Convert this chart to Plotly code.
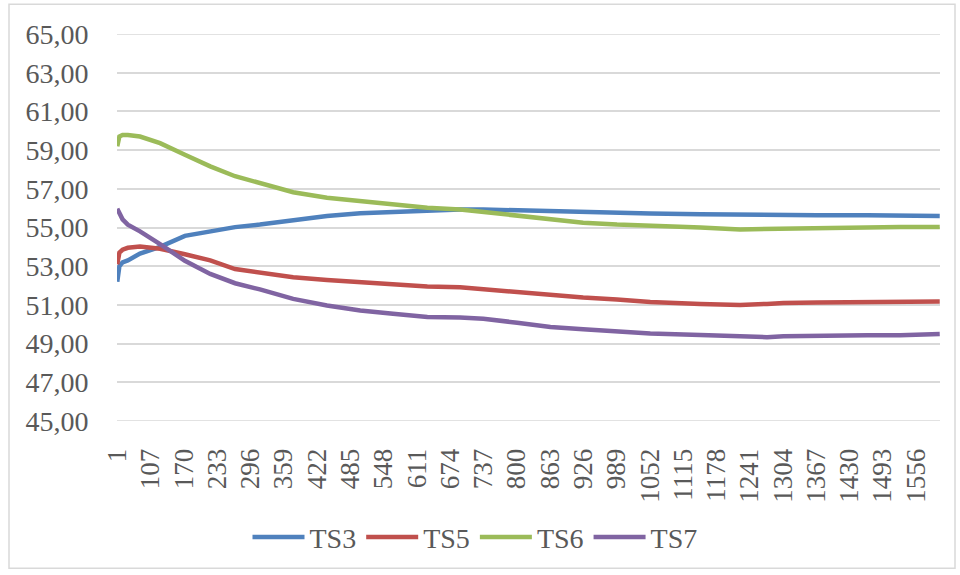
import plotly.graph_objects as go

# Sample position (row index of the log) at which each reading was taken
sample_idx = [0, 4, 10, 20, 43, 81, 128, 176, 223, 270, 333, 397, 460, 522, 587,
              649, 693, 757, 820, 882, 946, 1009, 1104, 1179, 1230, 1261, 1325,
              1420, 1482, 1557]

ts3 = [52.2, 53.0, 53.2, 53.3, 53.65, 54.0, 54.57, 54.82, 55.02, 55.15, 55.37,
       55.59, 55.73, 55.80, 55.84, 55.93, 55.93, 55.88, 55.85, 55.81, 55.78,
       55.72, 55.68, 55.65, 55.64, 55.64, 55.63, 55.63, 55.62, 55.60]
ts5 = [53.1, 53.7, 53.85, 53.95, 54.02, 53.9, 53.62, 53.3, 52.85, 52.65, 52.43,
       52.29, 52.17, 52.08, 51.95, 51.91, 51.8, 51.66, 51.48, 51.38, 51.28,
       51.15, 51.05, 51.0, 51.05, 51.1, 51.12, 51.14, 51.15, 51.18]
ts6 = [59.2, 59.7, 59.78, 59.78, 59.7, 59.36, 58.76, 58.16, 57.65, 57.3, 56.82,
       56.54, 56.36, 56.19, 56.02, 55.93, 55.8, 55.59, 55.39, 55.25, 55.15,
       55.1, 55.0, 54.9, 54.92, 54.97, 55.0, 55.0, 55.02, 55.03]
ts7 = [55.97, 55.7, 55.42, 55.15, 54.8, 54.14, 53.28, 52.6, 52.12, 51.8, 51.31,
       50.97, 50.71, 50.54, 50.37, 50.35, 50.28, 50.08, 49.86, 49.74, 49.6,
       49.52, 49.45, 49.35, 49.33, 49.38, 49.42, 49.43, 49.43, 49.5]

# Category labels shown along the horizontal axis, one every 63 rows
tick_pos = [i * 63 for i in range(25)]
tick_labels = ["1", "107", "170", "233", "296", "359", "422", "485", "548", "611",
               "674", "737", "800", "863", "926", "989", "1052", "1115", "1178",
               "1241", "1304", "1367", "1430", "1493", "1556"]
n_rows = 1558

series = [("TS3", ts3, "#4F81BD"), ("TS5", ts5, "#C0504D"),
          ("TS6", ts6, "#9BBB59"), ("TS7", ts7, "#8064A2")]

font_family = "Liberation Serif, Times New Roman, serif"
text_color = "#595959"

fig = go.Figure()
for name, vals, color in series:
    fig.add_trace(go.Scatter(x=sample_idx, y=vals, name=name, mode="lines",
                             line=dict(color=color, width=4.5)))

L, R, T, B = 117, 20, 34, 152
W, H = 960, 575
pw, ph = W - L - R, H - T - B


def px_x(v):
    return (v - L) / pw


def px_y(v):
    return (H - B - v) / ph


fig.update_layout(
    width=W, height=H,
    margin=dict(l=L, r=R, t=T, b=B),
    paper_bgcolor="white", plot_bgcolor="white",
    separators=",.",
    font=dict(family=font_family, size=28, color=text_color),
    showlegend=True,
    legend=dict(orientation="h", x=px_x(475), xanchor="center",
                y=px_y(540), yanchor="middle",
                font=dict(size=28, color=text_color),
                itemwidth=52, tracegroupgap=0),
    xaxis=dict(range=[-0.5, n_rows - 0.5], tickmode="array",
               tickvals=tick_pos, ticktext=tick_labels, tickangle=-90,
               showgrid=False, zeroline=False, showline=False,
               ticks="outside", ticklen=16, tickcolor="rgba(0,0,0,0)",
               tickfont=dict(size=27, color=text_color)),
    yaxis=dict(range=[45, 65], dtick=2, tick0=45, tickformat=".2f",
               showgrid=True, gridcolor="#D9D9D9", gridwidth=1.5,
               zeroline=False, showline=False,
               ticks="outside", ticklen=22, tickcolor="rgba(0,0,0,0)",
               tickfont=dict(size=28, color=text_color)),
    shapes=[
        dict(type="line", xref="paper", yref="y", x0=0, x1=1, y0=45, y1=45,
             line=dict(color="#D9D9D9", width=1.5), layer="below"),
        dict(type="line", xref="paper", yref="y", x0=0, x1=1, y0=65, y1=65,
             line=dict(color="#D9D9D9", width=1.5), layer="below"),
        dict(type="rect", xref="paper", yref="paper",
             x0=px_x(9), x1=px_x(955), y0=px_y(571), y1=px_y(4),
             line=dict(color="#D9D9D9", width=1.5), layer="below"),
    ],
)

fig.write_html("out.html")
